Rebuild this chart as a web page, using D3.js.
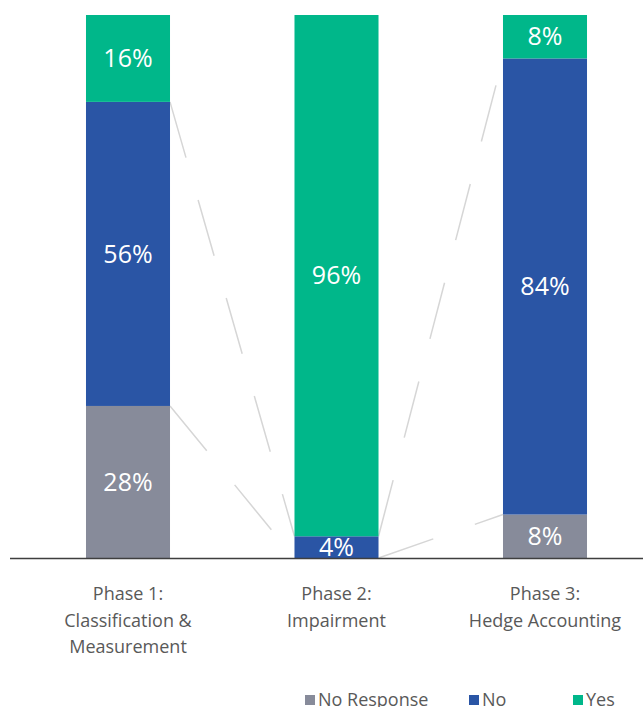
<!DOCTYPE html>
<html>
<head>
<meta charset="utf-8">
<script src="https://cdn.jsdelivr.net/npm/d3@7"></script>
<style>
  html, body { margin: 0; padding: 0; background: #fff; }
  svg { display: block; font-family: "Open Sans", "Noto Sans", sans-serif; }
</style>
</head>
<body>
<svg id="chart" width="643" height="707"></svg>
<script>
// chart data
const categories = ["Phase 1", "Phase 2", "Phase 3"];
const categoryLabels = [
    ["Phase 1:", "Classification &", "Measurement"],
    ["Phase 2:", "Impairment"],
    ["Phase 3:", "Hedge Accounting"]
];
const seriesNames = ["No Response", "No", "Yes"];
const noResponse = [28, 0, 8];
const no = [56, 4, 84];
const yes = [16, 96, 8];

const seriesColors = ["#878b9a", "#2a55a5", "#00b78a"];

const width = 643;
const height = 707;
const plotTop = 15;
const plotBottom = 558;

const svg = d3.select("#chart");

// build rows for d3.stack
const rows = categories.map((c, i) => ({
    category: c,
    "No Response": noResponse[i],
    "No": no[i],
    "Yes": yes[i]
}));

const stacked = d3.stack().keys(seriesNames)(rows);

const x = d3.scaleBand()
    .domain(categories)
    .range([23.75, 649.25])
    .paddingInner(0.597)
    .paddingOuter(0.2985);

const y = d3.scaleLinear()
    .domain([0, 100])
    .range([plotBottom, plotTop]);

// series lines between bars (not for the top series)
const connectors = [];
stacked.slice(0, -1).forEach(s => {
    for (let i = 0; i < categories.length - 1; i++) {
        connectors.push({
            x1: x(categories[i]) + x.bandwidth(),
            y1: y(s[i][1]),
            x2: x(categories[i + 1]),
            y2: y(s[i + 1][1])
        });
    }
});

svg.append("g")
    .selectAll("line")
    .data(connectors)
    .enter().append("line")
    .attr("x1", d => d.x1)
    .attr("y1", d => d.y1)
    .attr("x2", d => d.x2)
    .attr("y2", d => d.y2)
    .attr("stroke", "#d6d6d6")
    .attr("stroke-width", 1.5)
    .attr("stroke-dasharray", "58,44");

// bars
const groups = svg.append("g")
    .selectAll("g")
    .data(stacked)
    .enter().append("g")
    .attr("fill", (d, i) => seriesColors[i]);

groups.selectAll("rect")
    .data(d => d.map((v, i) => ({ v, cat: categories[i] })))
    .enter().append("rect")
    .attr("x", d => x(d.cat))
    .attr("width", x.bandwidth())
    .attr("y", d => y(d.v[1]))
    .attr("height", d => y(d.v[0]) - y(d.v[1]));

// value labels
groups.selectAll("text")
    .data(d => d.map((v, i) => ({ v, cat: categories[i] })).filter(d => d.v[1] - d.v[0] > 0))
    .enter().append("text")
    .attr("x", d => x(d.cat) + x.bandwidth() / 2)
    .attr("y", d => (y(d.v[0]) + y(d.v[1])) / 2)
    .attr("dy", "0.35em")
    .attr("text-anchor", "middle")
    .attr("fill", "#fff")
    .attr("font-size", "25px")
    .text(d => (d.v[1] - d.v[0]) + "%");

// baseline axis
svg.append("line")
    .attr("x1", 10)
    .attr("x2", width)
    .attr("y1", plotBottom + 0.5)
    .attr("y2", plotBottom + 0.5)
    .attr("stroke", "#3f3f3f")
    .attr("stroke-width", 1.5);

// category labels
const catText = svg.append("g")
    .selectAll("text")
    .data(categories)
    .enter().append("text")
    .attr("x", d => x(d) + x.bandwidth() / 2)
    .attr("y", 600)
    .attr("text-anchor", "middle")
    .attr("fill", "#595959")
    .attr("font-size", "18px");

catText.selectAll("tspan")
    .data((d, i) => categoryLabels[i])
    .enter().append("tspan")
    .attr("x", function() { return d3.select(this.parentNode).attr("x"); })
    .attr("dy", (d, i) => i === 0 ? 0 : 26.5)
    .text(d => d);

// legend
const legendX = [305, 469, 573];
const legend = svg.append("g")
    .selectAll("g")
    .data(seriesNames)
    .enter().append("g")
    .attr("transform", (d, i) => `translate(${legendX[i]},695)`);

legend.append("rect")
    .attr("width", 10)
    .attr("height", 10)
    .attr("fill", (d, i) => seriesColors[i]);

legend.append("text")
    .attr("x", 13)
    .attr("y", 10.5)
    .attr("fill", "#595959")
    .attr("font-size", "18px")
    .text(d => d);
</script>
</body>
</html>
